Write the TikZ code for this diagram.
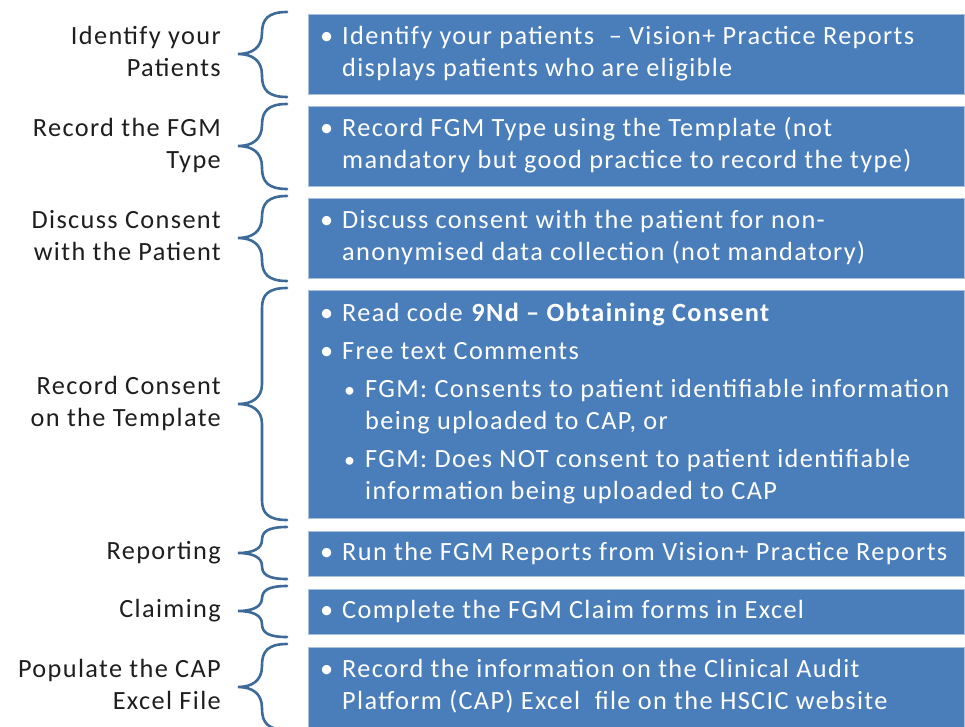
\documentclass[tikz,border=0pt]{standalone}
\usepackage{fontspec}
\setmainfont{Carlito}[LetterSpace=5.2]
\definecolor{boxblue}{HTML}{4A7EBB}
\definecolor{boxedge}{HTML}{A9C1DE}
\definecolor{braceblue}{HTML}{3E6A99}
\definecolor{labelgray}{HTML}{1E1E1E}
% bullet boxes for first and second level items
\newcommand\bul{\makebox[22pt][l]{\textbullet}}
\newcommand\sbul{\hspace*{24pt}\makebox[21pt][l]{{\fontsize{22}{32}\selectfont\textbullet}}}
\newcommand\ind{\hspace*{22pt}}
\newcommand\sind{\hspace*{45pt}}
% curly brace: top y, bottom y, tip y, bend radius
\newcommand\curlybrace[4]{%
  \draw[brace] (287,#1) .. controls (268,#1) and (262,#1+0.35*#4) .. (262,#1+#4)
    -- (262,#3-#4) .. controls (262,#3-0.3*#4) and (252,#3) .. (238,#3)
    .. controls (252,#3) and (262,#3+0.3*#4) .. (262,#3+#4)
    -- (262,#2-#4) .. controls (262,#2-0.35*#4) and (268,#2) .. (287,#2);}
\begin{document}
\begin{tikzpicture}[x=1pt,y=-1pt,
  stepbox/.style={fill=boxblue, draw=boxedge, line width=0.8pt, anchor=north west,
    minimum width=656pt, inner sep=0pt},
  boxtext/.style={anchor=west, align=left, text=white, inner sep=0pt,
    font=\fontsize{26.3}{32}\selectfont},
  steplabel/.style={anchor=east, align=right, text=labelgray, inner sep=0pt,
    font=\fontsize{26.3}{32}\selectfont},
  brace/.style={draw=braceblue, line width=2.6pt, line cap=round}]
\useasboundingbox (0,0) rectangle (965,727);

% step boxes
\node[stepbox, minimum height=80pt]  (b1) at (308,14)  {};
\node[stepbox, minimum height=80pt]  (b2) at (308,106) {};
\node[stepbox, minimum height=80pt]  (b3) at (308,198) {};
\node[stepbox, minimum height=228pt] (b4) at (308,290) {};
\node[stepbox, minimum height=45pt]  (b5) at (308,531) {};
\node[stepbox, minimum height=45pt]  (b6) at (308,589) {};
\node[stepbox, minimum height=80pt]  (b7) at (308,647) {};

% box contents
\node[boxtext] (t1) at ([xshift=12pt]b1.west)
  {\bul\strut Identify your patients\ \ –\ Vision+ Practice Reports\\
   \ind displays patients who are eligible\strut};
\node[boxtext] (t2) at ([xshift=12pt]b2.west)
  {\bul\strut Record FGM Type using the Template (not\\
   \ind mandatory but good practice to record the type)\strut};
\node[boxtext] (t3) at ([xshift=12pt]b3.west)
  {\bul\strut Discuss consent with the patient for non-\\
   \ind anonymised data collection (not mandatory)\strut};
\node[boxtext] (t4) at ([xshift=12pt]b4.west)
  {\bul\strut Read code \textbf{9Nd – Obtaining Consent}\\[6pt]
   \bul Free text Comments\\[6pt]
   \sbul FGM:\ Consents to patient identifiable information\\
   \sind being uploaded to CAP, or\\[6pt]
   \sbul FGM:\ Does NOT consent to patient identifiable\\
   \sind information being uploaded to CAP\strut};
\node[boxtext] (t5) at ([xshift=12pt]b5.west)
  {\bul\strut Run the FGM Reports from Vision+ Practice Reports};
\node[boxtext] (t6) at ([xshift=12pt]b6.west)
  {\bul\strut Complete the FGM Claim forms in Excel};
\node[boxtext] (t7) at ([xshift=12pt]b7.west)
  {\bul\strut Record the information on the Clinical Audit\\
   \ind Platform (CAP) Excel\ \ file on the HSCIC website\strut};

% braces
\curlybrace{12}{97}{54}{21}
\curlybrace{104}{189}{146}{21}
\curlybrace{196}{281}{238}{21}
\curlybrace{288}{520}{404}{20}
\curlybrace{527}{579}{553}{13}
\curlybrace{586}{637}{611}{13}
\curlybrace{644}{730}{687}{21}

% step labels
\node[steplabel] (l1) at (221,54)  {\strut Identify your\\ Patients\strut};
\node[steplabel] (l2) at (221,146) {\strut Record the FGM\\ Type\strut};
\node[steplabel] (l3) at (221,238) {\strut Discuss Consent\\ with the Patient\strut};
\node[steplabel] (l4) at (221,404) {\strut Record Consent\\ on the Template\strut};
\node[steplabel] (l5) at (221,553) {\strut Reporting};
\node[steplabel] (l6) at (221,611) {\strut Claiming};
\node[steplabel] (l7) at (221,687) {\strut Populate the CAP\\ Excel File\strut};
\end{tikzpicture}
\end{document}
